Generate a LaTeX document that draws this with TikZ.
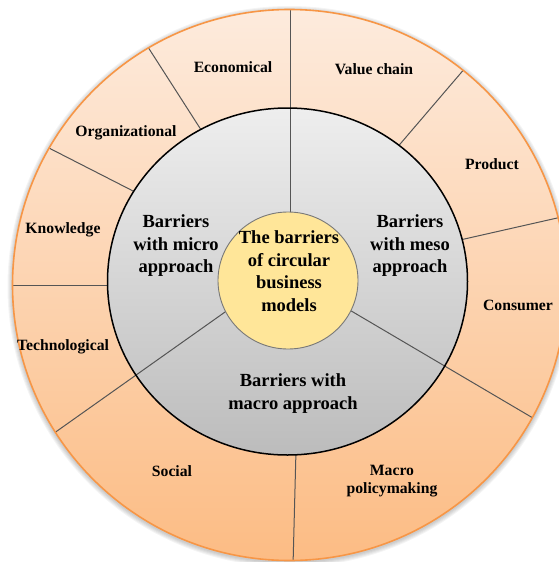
\documentclass[tikz,border=0pt]{standalone}
\usepackage{fontspec}
\setmainfont{Liberation Serif}
\definecolor{ringtop}{RGB}{253,235,221}
\definecolor{ringbot}{RGB}{252,188,132}
\definecolor{ringedge}{RGB}{247,150,70}
\definecolor{graytop}{RGB}{238,238,238}
\definecolor{graybot}{RGB}{188,188,188}
\definecolor{core}{RGB}{255,230,153}
\definecolor{coreedge}{RGB}{120,120,120}
\definecolor{divider}{RGB}{85,85,85}
\tikzset{
  outerlbl/.style={font=\bfseries\fontsize{15.7}{18}\selectfont, align=center, inner sep=0pt},
  innerlbl/.style={font=\bfseries\fontsize{18.5}{22.5}\selectfont, align=center, inner sep=0pt},
  divline/.style={draw=divider, line width=1pt},
}
\begin{document}
\begin{tikzpicture}[x=1pt,y=-1pt]
\useasboundingbox (0,0) rectangle (559,562);
\clip (0,0) rectangle (559,562);
% soft shadow
\foreach \d in {1,...,5}
  \fill[black, opacity=0.045] (289.5,286.5) ellipse [x radius=277+\d, y radius=275.5+\d];
% outer ring
\shade[top color=ringtop, bottom color=ringbot] (289.5,285) ellipse [x radius=277, y radius=275.5];
% outer ring dividers
\coordinate (e1a) at (146,44);   \coordinate (e1b) at (205,136);
\coordinate (e2a) at (45,146);   \coordinate (e2b) at (137,193);
\coordinate (e3a) at (5,285);    \coordinate (e3b) at (112,285);
\coordinate (e4a) at (296,450);  \coordinate (e4b) at (293,566);
\coordinate (e5a) at (460,240);  \coordinate (e5b) at (566,216);
\coordinate (e6a) at (395,150);  \coordinate (e6b) at (466,67);
\coordinate (l1a) at (290,250); \coordinate (l1b) at (290,4);
\coordinate (l2a) at (242,300); \coordinate (l2b) at (50,436);
\coordinate (l3a) at (336,302); \coordinate (l3b) at (538,421);
\begin{scope}
  \clip (289.5,285) ellipse [x radius=277, y radius=275.5];
  \draw[divline] (e1a) -- (e1b);
  \draw[divline] (e2a) -- (e2b);
  \draw[divline] (e3a) -- (e3b);
  \draw[divline] (e4a) -- (e4b);
  \draw[divline] (e5a) -- (e5b);
  \draw[divline] (e6a) -- (e6b);
  % middle ring
  \shade[top color=graytop, bottom color=graybot] (287.5,281.5) ellipse [x radius=180, y radius=173.5];
  % long dividers (from core to outer edge)
  \draw[divline] (l1a) -- (l1b);
  \draw[divline] (l2a) -- (l2b);
  \draw[divline] (l3a) -- (l3b);
\end{scope}
\draw[ringedge, line width=1.6pt] (289.5,285) ellipse [x radius=277, y radius=275.5];
\draw[black, line width=1.5pt] (287.5,281.5) ellipse [x radius=180, y radius=173.5];
% core
\fill[core] (288,280.5) ellipse [x radius=70, y radius=68.5];
\draw[coreedge, line width=0.9pt] (288,280.5) ellipse [x radius=70, y radius=68.5];
% labels
\node[innerlbl] (core) at (289,271) {The barriers\\of circular\\business\\models};
\node[innerlbl] (micro) at (176,246) {Barriers\\with micro\\approach};
\node[innerlbl] (meso) at (410,246) {Barriers\\with meso\\approach};
\node[innerlbl] (macro) at (293,393.5) {Barriers with\\macro approach};
\node[outerlbl] (econ) at (233,67.5) {Economical};
\node[outerlbl] (value) at (374,69.5) {Value chain};
\node[outerlbl] (org) at (126,133) {Organizational};
\node[outerlbl] (prod) at (492,164.5) {Product};
\node[outerlbl] (know) at (63,230) {Knowledge};
\node[outerlbl] (cons) at (518,305.5) {Consumer};
\node[outerlbl] (tech) at (63,347) {Technological};
\node[outerlbl] (social) at (172,471.5) {Social};
\node[outerlbl] (policy) at (392,481) {Macro\\policymaking};
\end{tikzpicture}
\end{document}
